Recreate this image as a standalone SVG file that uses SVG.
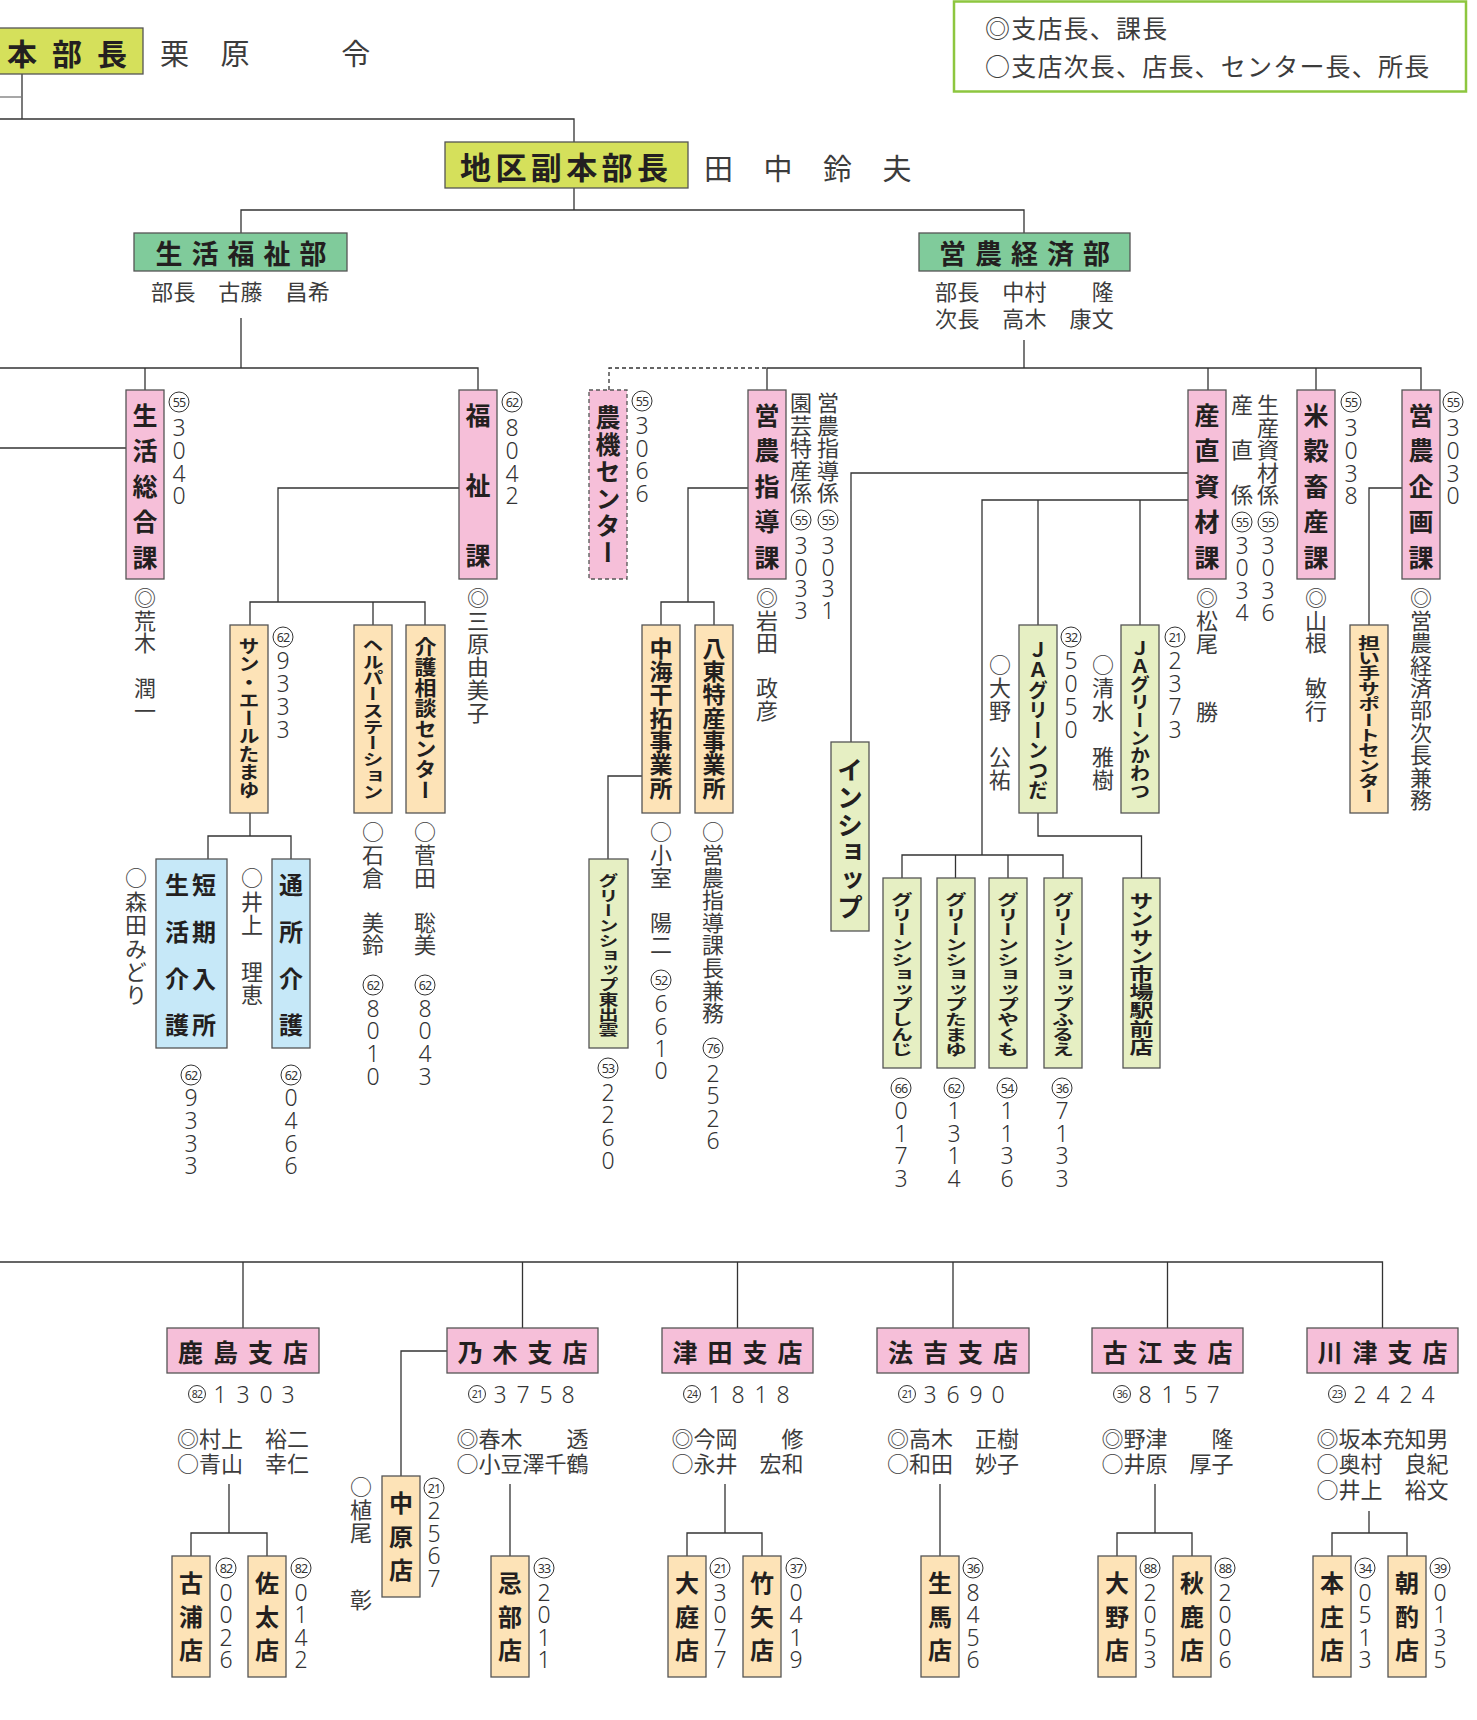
<svg xmlns="http://www.w3.org/2000/svg" width="1477" height="1720" viewBox="0 0 1477 1720">
<style>
text{font-family:"Noto Sans CJK JP","Noto Sans CJK SC",sans-serif}
.bx{stroke:#555;stroke-width:1.3}
.yl{fill:#d5e05b}.gr{fill:#80cb9b}.pk{fill:#f6bfd9}.or{fill:#fde3b7}.lg{fill:#e6efc3}.bl{fill:#c6e8f8}
.dsh{stroke-dasharray:4 3}
.ln{stroke:#333;stroke-width:1.3;fill:none}
.lb{font-weight:bold;fill:#231f20}
.nm{fill:#3c3c3c}
.v{writing-mode:vertical-rl}
.h{dominant-baseline:central}
.dg{font-family:"Noto Sans","Noto Sans CJK JP",sans-serif;font-size:23px;fill:#333;text-anchor:middle;dominant-baseline:central;font-weight:300}
.cc{fill:none;stroke:#333;stroke-width:1}
.cn{font-family:"Noto Sans",sans-serif;font-size:12.5px;fill:#333;text-anchor:middle;dominant-baseline:central;letter-spacing:-0.8px}
.cs{font-size:10.5px}
</style>
<rect width="1477" height="1720" fill="#fff"/>
<g id="connectors" class="ln">
<path d="M22 74V119M0 119H574V142" />
<path d="M0 97H22" stroke="#777"/>
<path d="M574 188V210M241 233V210H1024V233"/>
<path d="M241 318V368M0 368H478V390M145 368V390"/>
<path d="M0 448H126"/>
<path d="M1024 340V368M767 390V368H1421V390M1208 368V390M1316 368V390"/>
<path class="dsh" d="M609 390V368H767"/>
<path d="M459 488H278V602M250 625V602H425V625M373 602V625"/>
<path d="M250 813V836M208 859V836H291V859"/>
<path d="M748 488H688V602M661 625V602H714V625"/>
<path d="M642 776H608V859"/>
<path d="M1188 473H851V742M1188 500H982V855M1038 500V625M1140 500V625"/>
<path d="M902 878V855H1063V878M955.5 855V878M1008 855V878"/>
<path d="M1038 813V836H1141.5V878"/>
<path d="M1402 488H1369V625"/>
<path d="M0 1262H1382.5V1328M243 1262V1328M522.5 1262V1328M737.5 1262V1328M953 1262V1328M1167.5 1262V1328"/>
<path d="M229 1484V1533M191 1556V1533H267V1556"/>
<path d="M510 1484V1556"/>
<path d="M447 1351H401V1476"/>
<path d="M725 1484V1533M687 1556V1533H762V1556"/>
<path d="M940 1484V1556"/>
<path d="M1155 1484V1533M1117 1556V1533H1192V1556"/>
<path d="M1369 1511V1533M1332 1556V1533H1407V1556"/>
</g>

<g id="n-honbucho">
<rect class="bx yl" x="-2" y="28" width="145" height="46"/>
<text class="lb h" x="7" y="52" font-size="30" letter-spacing="15">本部長</text>
<text class="nm h" x="160" y="52" font-size="29" letter-spacing="1.2">栗　原　　　令</text>
</g>
<g id="n-fukuhonbucho">
<rect class="bx yl" x="445" y="142" width="243" height="46"/>
<text class="lb h" x="460" y="165" font-size="31" letter-spacing="4.4">地区副本部長</text>
<text class="nm h" x="704" y="167" font-size="29" letter-spacing="0.75">田　中　鈴　夫</text>
</g>
<g id="legend">
<rect x="954" y="1.5" width="512" height="90" fill="#fff" stroke="#8dc63f" stroke-width="2.5"/>
<text class="nm h" font-size="25" letter-spacing="1.2"><tspan x="985" y="27">◎支店長、課長</tspan><tspan x="985" y="65">○支店次長、店長、センター長、所長</tspan></text>
</g>
<g id="n-seikatsu-fukushi">
<rect class="bx gr" x="134" y="233" width="213" height="38"/>
<text class="lb h" x="245.5" y="252" font-size="27" letter-spacing="9" text-anchor="middle">生活福祉部</text>
<text class="nm h" x="151" y="290" font-size="22" letter-spacing="0.4">部長　古藤　昌希</text>
</g>
<g id="n-einou-keizai">
<rect class="bx gr" x="919" y="233" width="211" height="38"/>
<text class="lb h" x="1029" y="252" font-size="27" letter-spacing="9" text-anchor="middle">営農経済部</text>
<text class="nm h" font-size="22" letter-spacing="0.4"><tspan x="935" y="290">部長　中村　　隆</tspan><tspan x="935" y="317">次長　高木　康文</tspan></text>
</g>

<g id="n-seikatsu-sogo">
<rect class="bx pk" x="126" y="390" width="38" height="189"/>
<text class="v lb" transform="translate(145,402.5)" font-size="25" letter-spacing="10.5">生活総合課</text>
<circle class="cc" cx="179" cy="402" r="10"/><text class="cn" x="179" y="402">55</text>
<text class="dg" x="179 179 179 179" y="427 450 473 495">3040</text>
<text class="v nm" transform="translate(145,587)" font-size="22" letter-spacing="0.5">◎荒木　潤一</text>
</g>
<g id="n-fukushi">
<rect class="bx pk" x="459" y="390" width="38" height="189"/>
<text class="v lb" transform="translate(478,402.5)" font-size="25" letter-spacing="45">福祉課</text>
<circle class="cc" cx="512" cy="402" r="10"/><text class="cn" x="512" y="402">62</text>
<text class="dg" x="512 512 512 512" y="427 450 473 495">8042</text>
<text class="v nm" transform="translate(478,587)" font-size="22" letter-spacing="1">◎三原由美子</text>
</g>
<g id="n-noki">
<rect class="bx pk dsh" x="589" y="390" width="38" height="189"/>
<text class="v lb" transform="translate(608,404.5)" font-size="25" letter-spacing="2">農機センター</text>
<circle class="cc" cx="642" cy="401" r="10"/><text class="cn" x="642" y="401">55</text>
<text class="dg" x="642 642 642 642" y="425 448 470 493">3066</text>
</g>
<g id="n-einou-shido">
<rect class="bx pk" x="748" y="390" width="38" height="189"/>
<text class="v lb" transform="translate(767,402.5)" font-size="25" letter-spacing="10.5">営農指導課</text>
<text class="v nm" transform="translate(801,392)" font-size="22" letter-spacing="0.5">園芸特産係</text>
<circle class="cc" cx="801" cy="520" r="10"/><text class="cn" x="801" y="520">55</text>
<text class="dg" x="801 801 801 801" y="545 567 588 610">3033</text>
<text class="v nm" transform="translate(828,392)" font-size="22" letter-spacing="0.5">営農指導係</text>
<circle class="cc" cx="828" cy="520" r="10"/><text class="cn" x="828" y="520">55</text>
<text class="dg" x="828 828 828 828" y="545 567 588 610">3031</text>
<text class="v nm" transform="translate(767,587)" font-size="22" letter-spacing="0.5">◎岩田　政彦</text>
</g>
<g id="n-sanchoku">
<rect class="bx pk" x="1188" y="390" width="38" height="189"/>
<text class="v lb" transform="translate(1207,402.5)" font-size="25" letter-spacing="10.5">産直資材課</text>
<text class="v nm" transform="translate(1242,394)" font-size="22" letter-spacing="0.5">産　直　係</text>
<circle class="cc" cx="1242" cy="522" r="10"/><text class="cn" x="1242" y="522">55</text>
<text class="dg" x="1242 1242 1242 1242" y="545 567 590 612">3034</text>
<text class="v nm" transform="translate(1268,394)" font-size="22" letter-spacing="0.5">生産資材係</text>
<circle class="cc" cx="1268" cy="522" r="10"/><text class="cn" x="1268" y="522">55</text>
<text class="dg" x="1268 1268 1268 1268" y="545 567 590 612">3036</text>
<text class="v nm" transform="translate(1207,587)" font-size="22" letter-spacing="0.8">◎松尾　　勝</text>
</g>
<g id="n-beikoku">
<rect class="bx pk" x="1297" y="390" width="38" height="189"/>
<text class="v lb" transform="translate(1316,402.5)" font-size="25" letter-spacing="10.5">米穀畜産課</text>
<circle class="cc" cx="1351" cy="402" r="10"/><text class="cn" x="1351" y="402">55</text>
<text class="dg" x="1351 1351 1351 1351" y="427 450 473 495">3038</text>
<text class="v nm" transform="translate(1316,587)" font-size="22" letter-spacing="0.5">◎山根　敏行</text>
</g>
<g id="n-einou-kikaku">
<rect class="bx pk" x="1402" y="390" width="38" height="189"/>
<text class="v lb" transform="translate(1421,402.5)" font-size="25" letter-spacing="10.5">営農企画課</text>
<circle class="cc" cx="1453" cy="402" r="10"/><text class="cn" x="1453" y="402">55</text>
<text class="dg" x="1453 1453 1453 1453" y="427 450 473 495">3030</text>
<text class="v nm" transform="translate(1421,587)" font-size="22" letter-spacing="0.4">◎営農経済部次長兼務</text>
</g>

<g id="n-sun-yell">
<rect class="bx or" x="230" y="625" width="38" height="188"/>
<text class="v lb" transform="translate(249,637) scale(1,0.86)" font-size="21">サン・エールたまゆ</text>
<circle class="cc" cx="283" cy="637" r="10"/><text class="cn" x="283" y="637">62</text>
<text class="dg" x="283 283 283 283" y="660 683 706 729">9333</text>
</g>
<g id="n-helper">
<rect class="bx or" x="354" y="625" width="38" height="188"/>
<text class="v lb" transform="translate(373,637) scale(1,0.776)" font-size="21">ヘルパーステーション</text>
<text class="v nm" transform="translate(373,821)" font-size="22" letter-spacing="0.6">○石倉　美鈴</text>
<circle class="cc" cx="373" cy="985" r="10"/><text class="cn" x="373" y="985">62</text>
<text class="dg" x="373 373 373 373" y="1008 1030 1053 1076">8010</text>
</g>
<g id="n-kaigo-sodan">
<rect class="bx or" x="406" y="625" width="39" height="188"/>
<text class="v lb" transform="translate(425.5,637) scale(1,0.927)" font-size="22">介護相談センター</text>
<text class="v nm" transform="translate(425,821)" font-size="22" letter-spacing="0.6">○菅田　聡美</text>
<circle class="cc" cx="425" cy="985" r="10"/><text class="cn" x="425" y="985">62</text>
<text class="dg" x="425 425 425 425" y="1008 1030 1053 1076">8043</text>
</g>
<g id="n-tanki">
<rect class="bx bl" x="156" y="859" width="71" height="189"/>
<text class="v lb" transform="translate(204,873)" font-size="24" letter-spacing="22.7">短期入所</text>
<text class="v lb" transform="translate(177,873)" font-size="24" letter-spacing="22.7">生活介護</text>
<text class="v nm" transform="translate(136,867)" font-size="22" letter-spacing="1.4">○森田みどり</text>
<circle class="cc" cx="191" cy="1075" r="10"/><text class="cn" x="191" y="1075">62</text>
<text class="dg" x="191 191 191 191" y="1097 1120 1143 1165">9333</text>
</g>
<g id="n-tsusho">
<rect class="bx bl" x="272" y="859" width="38" height="189"/>
<text class="v lb" transform="translate(291,873)" font-size="24" letter-spacing="22.7">通所介護</text>
<text class="v nm" transform="translate(252,867)" font-size="22" letter-spacing="1.4">○井上　理恵</text>
<circle class="cc" cx="291" cy="1075" r="10"/><text class="cn" x="291" y="1075">62</text>
<text class="dg" x="291 291 291 291" y="1097 1120 1143 1165">0466</text>
</g>
<g id="n-nakaumi">
<rect class="bx or" x="642" y="625" width="38" height="188"/>
<text class="v lb" transform="translate(661,636.5)" font-size="23" letter-spacing="0.3">中海干拓事業所</text>
<text class="v nm" transform="translate(661,821)" font-size="22" letter-spacing="0.6">○小室　陽二</text>
<circle class="cc" cx="661" cy="980" r="10"/><text class="cn" x="661" y="980">52</text>
<text class="dg" x="661 661 661 661" y="1003 1026 1048 1070">6610</text>
</g>
<g id="n-hatto">
<rect class="bx or" x="695" y="625" width="38" height="188"/>
<text class="v lb" transform="translate(714,636.5)" font-size="23" letter-spacing="0.3">八東特産事業所</text>
<text class="v nm" transform="translate(713,821)" font-size="22" letter-spacing="0.6">○営農指導課長兼務</text>
<circle class="cc" cx="713" cy="1048" r="10"/><text class="cn" x="713" y="1048">76</text>
<text class="dg" x="713 713 713 713" y="1073 1095 1118 1140">2526</text>
</g>
<g id="n-higashiizumo">
<rect class="bx lg" x="589" y="859" width="39" height="189"/>
<text class="v lb" transform="translate(608.5,873) scale(1,0.745)" font-size="20">グリーンショップ東出雲</text>
<circle class="cc" cx="608" cy="1068" r="10"/><text class="cn" x="608" y="1068">53</text>
<text class="dg" x="608 608 608 608" y="1092 1114 1137 1160">2260</text>
</g>
<g id="n-inshop">
<rect class="bx lg" x="831" y="742" width="38" height="189"/>
<text class="v lb" transform="translate(850,757)" font-size="26" letter-spacing="1.5">インショップ</text>
</g>
<g id="n-ja-tsuda">
<rect class="bx lg" x="1019" y="625" width="38" height="188"/>
<text class="v lb" transform="translate(1038,640)" font-size="20">ＪＡグリーンつだ</text>
<circle class="cc" cx="1071" cy="637" r="10"/><text class="cn" x="1071" y="637">32</text>
<text class="dg" x="1071 1071 1071 1071" y="660 683 706 729">5050</text>
<text class="v nm" transform="translate(1000,654)" font-size="22" letter-spacing="1">○大野　公祐</text>
</g>
<g id="n-ja-kawatsu">
<rect class="bx lg" x="1121" y="625" width="38" height="188"/>
<text class="v lb" transform="translate(1140,640) scale(1,0.89)" font-size="20">ＪＡグリーンかわつ</text>
<circle class="cc" cx="1175" cy="637" r="10"/><text class="cn" x="1175" y="637">21</text>
<text class="dg" x="1175 1175 1175 1175" y="660 683 706 729">2373</text>
<text class="v nm" transform="translate(1103,654)" font-size="22" letter-spacing="1">○清水　雅樹</text>
</g>
<g id="n-ninaite">
<rect class="bx or" x="1350" y="625" width="38" height="188"/>
<text class="v lb" transform="translate(1369,635) scale(1,0.7)" font-size="22">担い手サポートセンター</text>
</g>
<g id="n-gs-shinji">
<rect class="bx lg" x="883" y="878" width="38" height="190"/>
<text class="v lb" transform="translate(902,892) scale(1,0.68)" font-size="22">グリーンショップしんじ</text>
<circle class="cc" cx="901" cy="1088" r="10"/><text class="cn" x="901" y="1088">66</text>
<text class="dg" x="901 901 901 901" y="1110 1133 1155 1178">0173</text>
</g>
<g id="n-gs-tamayu">
<rect class="bx lg" x="937" y="878" width="38" height="190"/>
<text class="v lb" transform="translate(956,892) scale(1,0.68)" font-size="22">グリーンショップたまゆ</text>
<circle class="cc" cx="954" cy="1088" r="10"/><text class="cn" x="954" y="1088">62</text>
<text class="dg" x="954 954 954 954" y="1110 1133 1155 1178">1314</text>
</g>
<g id="n-gs-yakumo">
<rect class="bx lg" x="989" y="878" width="38" height="190"/>
<text class="v lb" transform="translate(1008,892) scale(1,0.68)" font-size="22">グリーンショップやくも</text>
<circle class="cc" cx="1007" cy="1088" r="10"/><text class="cn" x="1007" y="1088">54</text>
<text class="dg" x="1007 1007 1007 1007" y="1110 1133 1155 1178">1136</text>
</g>
<g id="n-gs-furue">
<rect class="bx lg" x="1044" y="878" width="38" height="190"/>
<text class="v lb" transform="translate(1063,892) scale(1,0.68)" font-size="22">グリーンショップふるえ</text>
<circle class="cc" cx="1062" cy="1088" r="10"/><text class="cn" x="1062" y="1088">36</text>
<text class="dg" x="1062 1062 1062 1062" y="1110 1133 1155 1178">7133</text>
</g>
<g id="n-sunsun">
<rect class="bx lg" x="1123" y="878" width="37" height="190"/>
<text class="v lb" transform="translate(1141.5,892) scale(1,0.76)" font-size="24">サンサン市場駅前店</text>
</g>

<g id="n-kashima">
<rect class="bx pk" x="167" y="1328" width="152" height="45"/>
<text class="lb h" x="248" y="1351" font-size="25" letter-spacing="10" text-anchor="middle">鹿島支店</text>
<circle class="cc" cx="197" cy="1394" r="8.5"/><text class="cn cs" x="197" y="1394">82</text>
<text class="dg" x="220 243 266 288" y="1394" font-size="22">1303</text>
<text class="nm h" font-size="22" text-anchor="middle"><tspan x="243" y="1437">◎村上　裕二</tspan><tspan x="243" y="1462">○青山　幸仁</tspan></text>
</g>
<g id="n-nogi">
<rect class="bx pk" x="447" y="1328" width="151" height="45"/>
<text class="lb h" x="527.5" y="1351" font-size="25" letter-spacing="10" text-anchor="middle">乃木支店</text>
<circle class="cc" cx="477" cy="1394" r="8.5"/><text class="cn cs" x="477" y="1394">21</text>
<text class="dg" x="500 523 546 568" y="1394" font-size="22">3758</text>
<text class="nm h" font-size="22" text-anchor="middle"><tspan x="522.5" y="1437">◎春木　　透</tspan><tspan x="522.5" y="1462">○小豆澤千鶴</tspan></text>
</g>
<g id="n-tsuda">
<rect class="bx pk" x="662" y="1328" width="151" height="45"/>
<text class="lb h" x="742.5" y="1351" font-size="25" letter-spacing="10" text-anchor="middle">津田支店</text>
<circle class="cc" cx="692" cy="1394" r="8.5"/><text class="cn cs" x="692" y="1394">24</text>
<text class="dg" x="715 738 761 783" y="1394" font-size="22">1818</text>
<text class="nm h" font-size="22" text-anchor="middle"><tspan x="737.5" y="1437">◎今岡　　修</tspan><tspan x="737.5" y="1462">○永井　宏和</tspan></text>
</g>
<g id="n-hokki">
<rect class="bx pk" x="877" y="1328" width="152" height="45"/>
<text class="lb h" x="958" y="1351" font-size="25" letter-spacing="10" text-anchor="middle">法吉支店</text>
<circle class="cc" cx="907" cy="1394" r="8.5"/><text class="cn cs" x="907" y="1394">21</text>
<text class="dg" x="930 953 976 998" y="1394" font-size="22">3690</text>
<text class="nm h" font-size="22" text-anchor="middle"><tspan x="953" y="1437">◎高木　正樹</tspan><tspan x="953" y="1462">○和田　妙子</tspan></text>
</g>
<g id="n-koe">
<rect class="bx pk" x="1092" y="1328" width="151" height="45"/>
<text class="lb h" x="1172.5" y="1351" font-size="25" letter-spacing="10" text-anchor="middle">古江支店</text>
<circle class="cc" cx="1122" cy="1394" r="8.5"/><text class="cn cs" x="1122" y="1394">36</text>
<text class="dg" x="1145 1168 1191 1213" y="1394" font-size="22">8157</text>
<text class="nm h" font-size="22" text-anchor="middle"><tspan x="1167.5" y="1437">◎野津　　隆</tspan><tspan x="1167.5" y="1462">○井原　厚子</tspan></text>
</g>
<g id="n-kawatsu">
<rect class="bx pk" x="1307" y="1328" width="151" height="45"/>
<text class="lb h" x="1387.5" y="1351" font-size="25" letter-spacing="10" text-anchor="middle">川津支店</text>
<circle class="cc" cx="1337" cy="1394" r="8.5"/><text class="cn cs" x="1337" y="1394">23</text>
<text class="dg" x="1360 1383 1406 1428" y="1394" font-size="22">2424</text>
<text class="nm h" font-size="22" text-anchor="middle"><tspan x="1382.5" y="1437">◎坂本充知男</tspan><tspan x="1382.5" y="1462">○奥村　良紀</tspan><tspan x="1382.5" y="1488">○井上　裕文</tspan></text>
</g>

<g id="n-furuura">
<rect class="bx or" x="172" y="1556" width="38" height="121"/>
<text class="v lb" transform="translate(191,1571)" font-size="24" letter-spacing="9.5">古浦店</text>
<circle class="cc" cx="226" cy="1568" r="10"/><text class="cn" x="226" y="1568">82</text>
<text class="dg" x="226 226 226 226" y="1592 1614 1637 1659">0026</text>
</g>
<g id="n-sada">
<rect class="bx or" x="248" y="1556" width="38" height="121"/>
<text class="v lb" transform="translate(267,1571)" font-size="24" letter-spacing="9.5">佐太店</text>
<circle class="cc" cx="301" cy="1568" r="10"/><text class="cn" x="301" y="1568">82</text>
<text class="dg" x="301 301 301 301" y="1592 1614 1637 1659">0142</text>
</g>
<g id="n-nakahara">
<rect class="bx or" x="382" y="1476" width="38" height="121"/>
<text class="v lb" transform="translate(401,1491)" font-size="24" letter-spacing="9.5">中原店</text>
<text class="v nm" transform="translate(361,1476)" font-size="22" letter-spacing="0.6">○植尾　　彰</text>
<circle class="cc" cx="434" cy="1488" r="10"/><text class="cn" x="434" y="1488">21</text>
<text class="dg" x="434 434 434 434" y="1510 1533 1555 1578">2567</text>
</g>
<g id="n-inbe">
<rect class="bx or" x="491" y="1556" width="38" height="121"/>
<text class="v lb" transform="translate(510,1571)" font-size="24" letter-spacing="9.5">忌部店</text>
<circle class="cc" cx="544" cy="1568" r="10"/><text class="cn" x="544" y="1568">33</text>
<text class="dg" x="544 544 544 544" y="1592 1614 1637 1659">2011</text>
</g>
<g id="n-oba">
<rect class="bx or" x="668" y="1556" width="38" height="121"/>
<text class="v lb" transform="translate(687,1571)" font-size="24" letter-spacing="9.5">大庭店</text>
<circle class="cc" cx="720" cy="1568" r="10"/><text class="cn" x="720" y="1568">21</text>
<text class="dg" x="720 720 720 720" y="1592 1614 1637 1659">3077</text>
</g>
<g id="n-chikuya">
<rect class="bx or" x="743" y="1556" width="38" height="121"/>
<text class="v lb" transform="translate(762,1571)" font-size="24" letter-spacing="9.5">竹矢店</text>
<circle class="cc" cx="796" cy="1568" r="10"/><text class="cn" x="796" y="1568">37</text>
<text class="dg" x="796 796 796 796" y="1592 1614 1637 1659">0419</text>
</g>
<g id="n-ikuma">
<rect class="bx or" x="921" y="1556" width="38" height="121"/>
<text class="v lb" transform="translate(940,1571)" font-size="24" letter-spacing="9.5">生馬店</text>
<circle class="cc" cx="973" cy="1568" r="10"/><text class="cn" x="973" y="1568">36</text>
<text class="dg" x="973 973 973 973" y="1592 1614 1637 1659">8456</text>
</g>
<g id="n-ono">
<rect class="bx or" x="1098" y="1556" width="38" height="121"/>
<text class="v lb" transform="translate(1117,1571)" font-size="24" letter-spacing="9.5">大野店</text>
<circle class="cc" cx="1150" cy="1568" r="10"/><text class="cn" x="1150" y="1568">88</text>
<text class="dg" x="1150 1150 1150 1150" y="1592 1614 1637 1659">2053</text>
</g>
<g id="n-aika">
<rect class="bx or" x="1173" y="1556" width="38" height="121"/>
<text class="v lb" transform="translate(1192,1571)" font-size="24" letter-spacing="9.5">秋鹿店</text>
<circle class="cc" cx="1225" cy="1568" r="10"/><text class="cn" x="1225" y="1568">88</text>
<text class="dg" x="1225 1225 1225 1225" y="1592 1614 1637 1659">2006</text>
</g>
<g id="n-honjo">
<rect class="bx or" x="1313" y="1556" width="38" height="121"/>
<text class="v lb" transform="translate(1332,1571)" font-size="24" letter-spacing="9.5">本庄店</text>
<circle class="cc" cx="1365" cy="1568" r="10"/><text class="cn" x="1365" y="1568">34</text>
<text class="dg" x="1365 1365 1365 1365" y="1592 1614 1637 1659">0513</text>
</g>
<g id="n-asakumi">
<rect class="bx or" x="1388" y="1556" width="38" height="121"/>
<text class="v lb" transform="translate(1407,1571)" font-size="24" letter-spacing="9.5">朝酌店</text>
<circle class="cc" cx="1440" cy="1568" r="10"/><text class="cn" x="1440" y="1568">39</text>
<text class="dg" x="1440 1440 1440 1440" y="1592 1614 1637 1659">0135</text>
</g>
</svg>
